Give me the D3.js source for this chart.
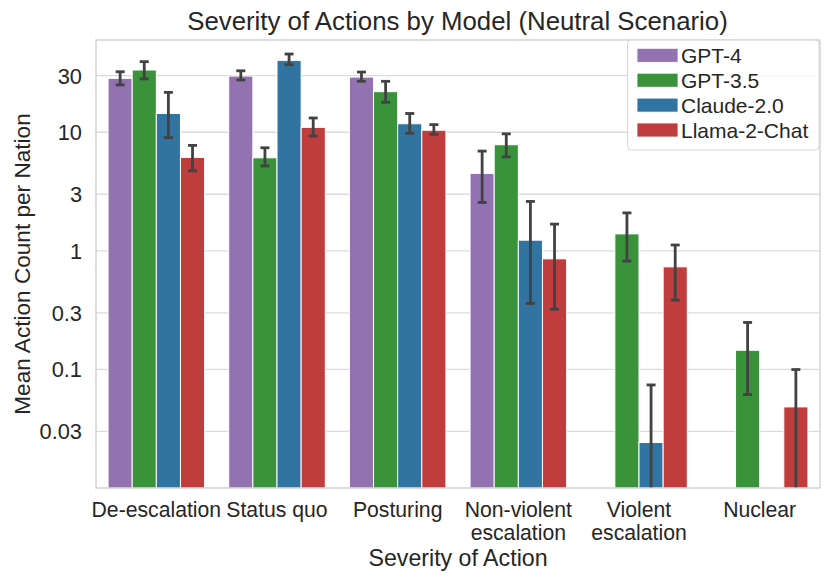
<!DOCTYPE html>
<html>
<head>
<meta charset="utf-8">
<script src="https://cdn.jsdelivr.net/npm/d3@7"></script>
<style>
  html, body { margin: 0; padding: 0; background: #ffffff; }
  svg { display: block; }
  text { font-family: "Liberation Sans", Arial, sans-serif; fill: #262626; }
</style>
</head>
<body>
<svg id="chart" width="831" height="583"></svg>
<script>
const categories = ["De-escalation", "Status quo", "Posturing", "Non-violent\nescalation", "Violent\nescalation", "Nuclear"];
const models = ["GPT-4", "GPT-3.5", "Claude-2.0", "Llama-2-Chat"];
const colors = ["#9372b2", "#3a923a", "#3274a1", "#c03d3e"];

const gpt4Mean = [28.5, 29.8, 29.2, 4.5, null, null];
const gpt4Lo   = [25.1, 27.6, 26.9, 2.56, null, null];
const gpt4Hi   = [32.4, 33.0, 32.2, 6.94, null, null];

const gpt35Mean = [33.5, 6.09, 22.0, 7.85, 1.39, 0.145];
const gpt35Lo   = [28.2, 5.2, 17.9, 6.2, 0.82, 0.0614];
const gpt35Hi   = [39.4, 7.4, 26.9, 9.7, 2.09, 0.249];

const claudeMean = [14.4, 40.4, 11.8, 1.23, 0.0242, null];
const claudeLo   = [9.0, 37.1, 9.8, 0.36, 0, null];
const claudeHi   = [21.7, 45.7, 14.4, 2.61, 0.074, null];

const llamaMean = [6.14, 11.0, 10.4, 0.856, 0.733, 0.0483];
const llamaLo   = [4.73, 9.3, 9.6, 0.322, 0.384, 0];
const llamaHi   = [7.75, 13.2, 11.6, 1.68, 1.12, 0.0998];

const yTicks = [0.03, 0.1, 0.3, 1, 3, 10, 30];
const yTickLabels = ["0.03", "0.1", "0.3", "1", "3", "10", "30"];

const title = "Severity of Actions by Model (Neutral Scenario)";
const xLabel = "Severity of Action";
const yLabel = "Mean Action Count per Nation";

const series = [
  { mean: gpt4Mean, lo: gpt4Lo, hi: gpt4Hi },
  { mean: gpt35Mean, lo: gpt35Lo, hi: gpt35Hi },
  { mean: claudeMean, lo: claudeLo, hi: claudeHi },
  { mean: llamaMean, lo: llamaLo, hi: llamaHi }
];

const L = 96, R = 820, T = 40, B = 488;
const svg = d3.select("#chart");

const x = d3.scaleBand().domain(d3.range(categories.length)).range([L, R]).paddingInner(0.2).paddingOuter(0.1);
const xs = d3.scaleBand().domain(d3.range(models.length)).range([0, x.bandwidth()]);
const y = d3.scaleLog().domain([0.01, 60]).range([B, T]);
const yc = v => (v <= 0 ? B : Math.max(T, Math.min(B, y(v))));

// gridlines
svg.append("g").selectAll("line").data(yTicks).join("line")
  .attr("x1", L).attr("x2", R)
  .attr("y1", d => y(d)).attr("y2", d => y(d))
  .attr("stroke", "#dcdcdc").attr("stroke-width", 1.3);

// bars
const barsData = [];
series.forEach((s, si) => s.mean.forEach((v, ci) => { if (v != null) barsData.push({ si, ci, v, lo: s.lo[ci], hi: s.hi[ci] }); }));

svg.append("g").selectAll("rect").data(barsData).join("rect")
  .attr("x", d => x(d.ci) + xs(d.si))
  .attr("width", xs.bandwidth())
  .attr("y", d => yc(d.v))
  .attr("height", d => B - yc(d.v))
  .attr("fill", d => colors[d.si])
  .attr("stroke", "#ffffff").attr("stroke-width", 1);

// error bars
const eb = svg.append("g").attr("stroke", "#424242").attr("stroke-width", 2.8);
barsData.forEach(d => {
  const cx = x(d.ci) + xs(d.si) + xs.bandwidth() / 2;
  const y1 = yc(d.hi), y2 = yc(d.lo);
  eb.append("line").attr("x1", cx).attr("x2", cx).attr("y1", y1).attr("y2", y2);
  eb.append("line").attr("x1", cx - 4.5).attr("x2", cx + 4.5).attr("y1", y1).attr("y2", y1);
  if (d.lo > 0) eb.append("line").attr("x1", cx - 4.5).attr("x2", cx + 4.5).attr("y1", y2).attr("y2", y2);
});

// spines
svg.append("rect").attr("x", L).attr("y", T).attr("width", R - L).attr("height", B - T)
  .attr("fill", "none").attr("stroke", "#cccccc").attr("stroke-width", 1.3);

// y tick labels
svg.append("g").selectAll("text").data(yTicks).join("text")
  .attr("x", L - 14).attr("y", d => y(d)).attr("dy", "0.36em")
  .attr("text-anchor", "end").attr("font-size", 21.8)
  .text((d, i) => yTickLabels[i]);

// x tick labels
const xt = svg.append("g").selectAll("text").data(categories).join("text")
  .attr("text-anchor", "middle").attr("font-size", 21.2)
  .attr("x", (d, i) => x(i) + x.bandwidth() / 2).attr("y", 517);
xt.each(function(d) {
  const lines = d.split("\n");
  const t = d3.select(this);
  lines.forEach((ln, k) => t.append("tspan").attr("x", t.attr("x")).attr("dy", k === 0 ? 0 : 22.5).text(ln));
});

// axis labels
svg.append("text").attr("x", (L + R) / 2).attr("y", 566).attr("text-anchor", "middle")
  .attr("font-size", 23.2).text(xLabel);
svg.append("text").attr("transform", `translate(29.5, ${(T + B) / 2}) rotate(-90)`)
  .attr("text-anchor", "middle").attr("font-size", 22.6).text(yLabel);

// title
svg.append("text").attr("x", (L + R) / 2 - 0.5).attr("y", 29.5).attr("text-anchor", "middle")
  .attr("font-size", 25.8).text(title);

// legend
const lg = svg.append("g");
lg.append("rect").attr("x", 627.5).attr("y", 40).attr("width", 191.5).attr("height", 110).attr("rx", 4)
  .attr("fill", "#ffffff").attr("fill-opacity", 0.8).attr("stroke", "#d6d6d6").attr("stroke-width", 1);
models.forEach((m, i) => {
  const cy = 55.3 + i * 24.9;
  lg.append("rect").attr("x", 637).attr("y", cy - 7).attr("width", 41).attr("height", 14)
    .attr("fill", colors[i]).attr("stroke", "#ffffff").attr("stroke-width", 0.8);
  lg.append("text").attr("x", 681).attr("y", cy).attr("dy", "0.36em").attr("font-size", 21).text(m);
});
</script>
</body>
</html>
